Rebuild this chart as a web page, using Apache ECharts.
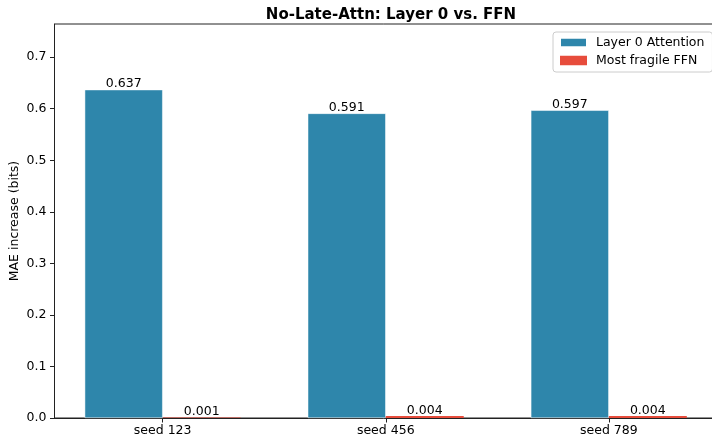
<!DOCTYPE html>
<html>
<head>
<meta charset="utf-8">
<script src="https://cdn.jsdelivr.net/npm/echarts@6/dist/echarts.min.js"></script>
<style>html,body{margin:0;padding:0;background:#fff}#c{width:712px;height:442px}</style>
</head>
<body>
<div id="c"></div>
<script>
const categories = ['seed 123', 'seed 456', 'seed 789'];
const attnValues = [0.637, 0.591, 0.597];
const ffnValues = [0.001, 0.004, 0.004];
const yTicks = [0, 0.1, 0.2, 0.3, 0.4, 0.5, 0.6, 0.7];
const seriesNames = ['Layer 0 Attention', 'Most fragile FFN'];
const titleText = 'No-Late-Attn: Layer 0 vs. FFN';
const yName = 'MAE increase (bits)';

const font = 'DejaVu Sans';
const chart = echarts.init(document.getElementById('c'), null, {renderer: 'canvas'});
const xIdx = categories.map((_, i) => i);
const mk = (vals) => vals.map((v, i) => [i, v]);
const lbl = {show: true, position: 'top', distance: -1, fontFamily: font, fontSize: 12.5, color: '#000',
  formatter: p => p.value[1].toFixed(3)};

chart.setOption({
  animation: false,
  title: {text: titleText, left: 386, top: 3, textAlign: 'center',
    textStyle: {fontFamily: font, fontSize: 15, fontWeight: 'bold', color: '#000'}},
  grid: {left: 54.5, top: 24, width: 662.5, height: 394, show: true, borderColor: '#222', borderWidth: 1,
    backgroundColor: 'transparent', containLabel: false, outerBoundsMode: 'none'},
  legend: {orient: 'vertical', left: 553, top: 32, data: seriesNames,
    itemWidth: 27, itemHeight: 9.5, itemGap: 3, icon: 'rect',
    padding: [3, 8, 4, 6], borderColor: '#ccc', borderWidth: 1, borderRadius: 3,
    backgroundColor: 'rgba(255,255,255,0.8)',
    textStyle: {fontFamily: font, fontSize: 12.5, color: '#000', lineHeight: 15, padding: [0,0,0,4]}},
  xAxis: {type: 'value', min: -0.485, max: 2.485,
    axisLine: {show: true, onZero: false, lineStyle: {color: '#222', width: 1}},
    axisTick: {show: true, length: 4.5, lineStyle: {color: '#222'}, customValues: xIdx},
    axisLabel: {fontFamily: font, fontSize: 12.5, color: '#000', margin: 6, customValues: xIdx,
      formatter: v => categories[Math.round(v)] || ''},
    splitLine: {show: false}},
  yAxis: {type: 'value', min: 0, max: 0.7644,
    name: yName, nameLocation: 'middle', nameRotate: 90, nameGap: 33, nameMoveOverlap: false,
    nameTextStyle: {fontFamily: font, fontSize: 12.5, color: '#000'},
    axisLine: {show: true, onZero: false, lineStyle: {color: '#222', width: 1}},
    axisTick: {show: true, length: 4.5, lineStyle: {color: '#222'}, customValues: yTicks},
    axisLabel: {fontFamily: font, fontSize: 12.5, color: '#000', margin: 8, customValues: yTicks,
      formatter: v => v.toFixed(1)},
    splitLine: {show: false}},
  series: [
    {name: seriesNames[0], type: 'bar', data: mk(attnValues), barWidth: 78, barGap: '0%',
      itemStyle: {color: '#2E86AB', borderColor: '#ffffff', borderWidth: 0.5}, label: lbl},
    {name: seriesNames[1], type: 'bar', data: mk(ffnValues), barWidth: 78, barGap: '0%',
      itemStyle: {color: '#E74C3C', borderColor: '#ffffff', borderWidth: 0}, label: lbl}
  ]
});
</script>
</body>
</html>
